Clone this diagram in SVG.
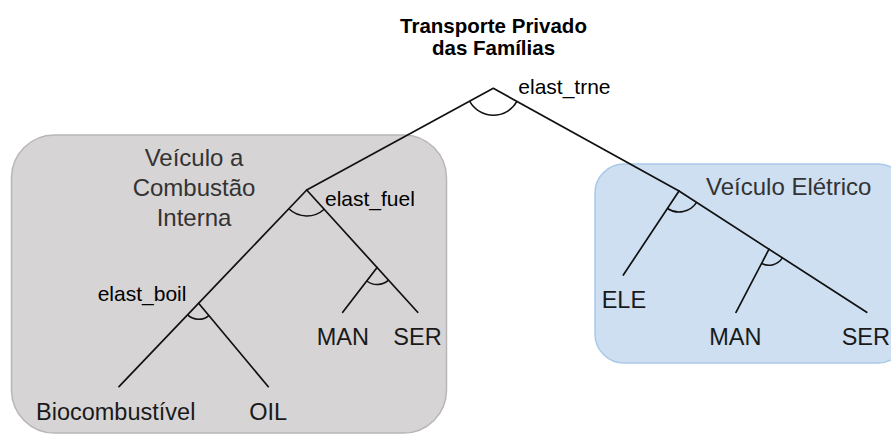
<svg xmlns="http://www.w3.org/2000/svg" width="891" height="434" viewBox="0 0 891 434">
<style>
text { font-family: "Liberation Sans", Arial, sans-serif; }
.title { font-size: 20.5px; font-weight: bold; fill: #000; text-anchor: middle; }
.grp { font-size: 24px; fill: #333; }
.leaf { font-size: 23.5px; fill: #1a1a1a; }
.el { font-size: 21px; fill: #000; }
.ln { fill: none; stroke: #111; stroke-width: 1.7; stroke-linecap: round; stroke-linejoin: round; }
.arc { fill: none; stroke: #111; stroke-width: 1.5; }
</style>
<rect width="891" height="434" fill="#fff"/>
<g id="ice-group">
  <rect x="11.5" y="135" width="435" height="298" rx="43" ry="43" fill="#d6d4d5" stroke="#b8b6b7" stroke-width="1.5"/>
  <text class="grp" text-anchor="middle" x="194" y="166">Veículo a</text>
  <text class="grp" text-anchor="middle" x="194" y="195.5">Combustão</text>
  <text class="grp" text-anchor="middle" x="194" y="225.5">Interna</text>
</g>
<g id="ev-group">
  <rect x="595" y="164" width="312" height="199" rx="29" ry="29" fill="#cddff1" stroke="#a9c9ea" stroke-width="1.5"/>
  <text class="grp" x="706" y="195">Veículo Elétrico</text>
</g>
<g id="root">
  <text class="title" x="493.5" y="32.5">Transporte Privado</text>
  <text class="title" x="493.5" y="54.5">das Famílias</text>
</g>
<g id="connectors">
  <polyline class="ln" points="119,386.7 306.7,190 493.3,88.3 679,191 866.7,312.3"/>
  <line class="ln" x1="306.7" y1="190" x2="417.7" y2="312.3"/>
  <line class="ln" x1="198.6" y1="303.3" x2="268.3" y2="386.7"/>
  <line class="ln" x1="377.1" y1="267.5" x2="342.7" y2="312.3"/>
  <line class="ln" x1="679" y1="191" x2="623.3" y2="275"/>
  <line class="ln" x1="769" y1="249.2" x2="736" y2="312.3"/>
  <path class="arc" d="M469.6,101.2 A27,27 0 0 0 516.9,101.4"/>
  <path class="arc" d="M288.8,208.8 A26,26 0 0 0 324.2,209.2"/>
  <path class="arc" d="M187.6,314.9 A16,16 0 0 0 208.9,315.6"/>
  <path class="arc" d="M366.7,281 A17,17 0 0 0 388.5,280.1"/>
  <path class="arc" d="M667.4,208.5 A21,21 0 0 0 696.6,202.4"/>
  <path class="arc" d="M761.6,263.4 A16,16 0 0 0 782.4,257.9"/>
</g>
<g id="elast-labels">
  <text class="el" x="518.3" y="93.5">elast_trne</text>
  <text class="el" x="325" y="206">elast_fuel</text>
  <text class="el" x="97.7" y="300.7">elast_boil</text>
</g>
<g id="node-bio"><text class="leaf" x="36" y="419.5">Biocombustível</text></g>
<g id="node-oil"><text class="leaf" x="249.3" y="419.5">OIL</text></g>
<g id="node-man-ice"><text class="leaf" x="316.7" y="345">MAN</text></g>
<g id="node-ser-ice"><text class="leaf" x="393.3" y="345">SER</text></g>
<g id="node-ele"><text class="leaf" x="601.7" y="308.3">ELE</text></g>
<g id="node-man-ev"><text class="leaf" x="709.3" y="345">MAN</text></g>
<g id="node-ser-ev"><text class="leaf" x="841.7" y="345">SER</text></g>
</svg>
